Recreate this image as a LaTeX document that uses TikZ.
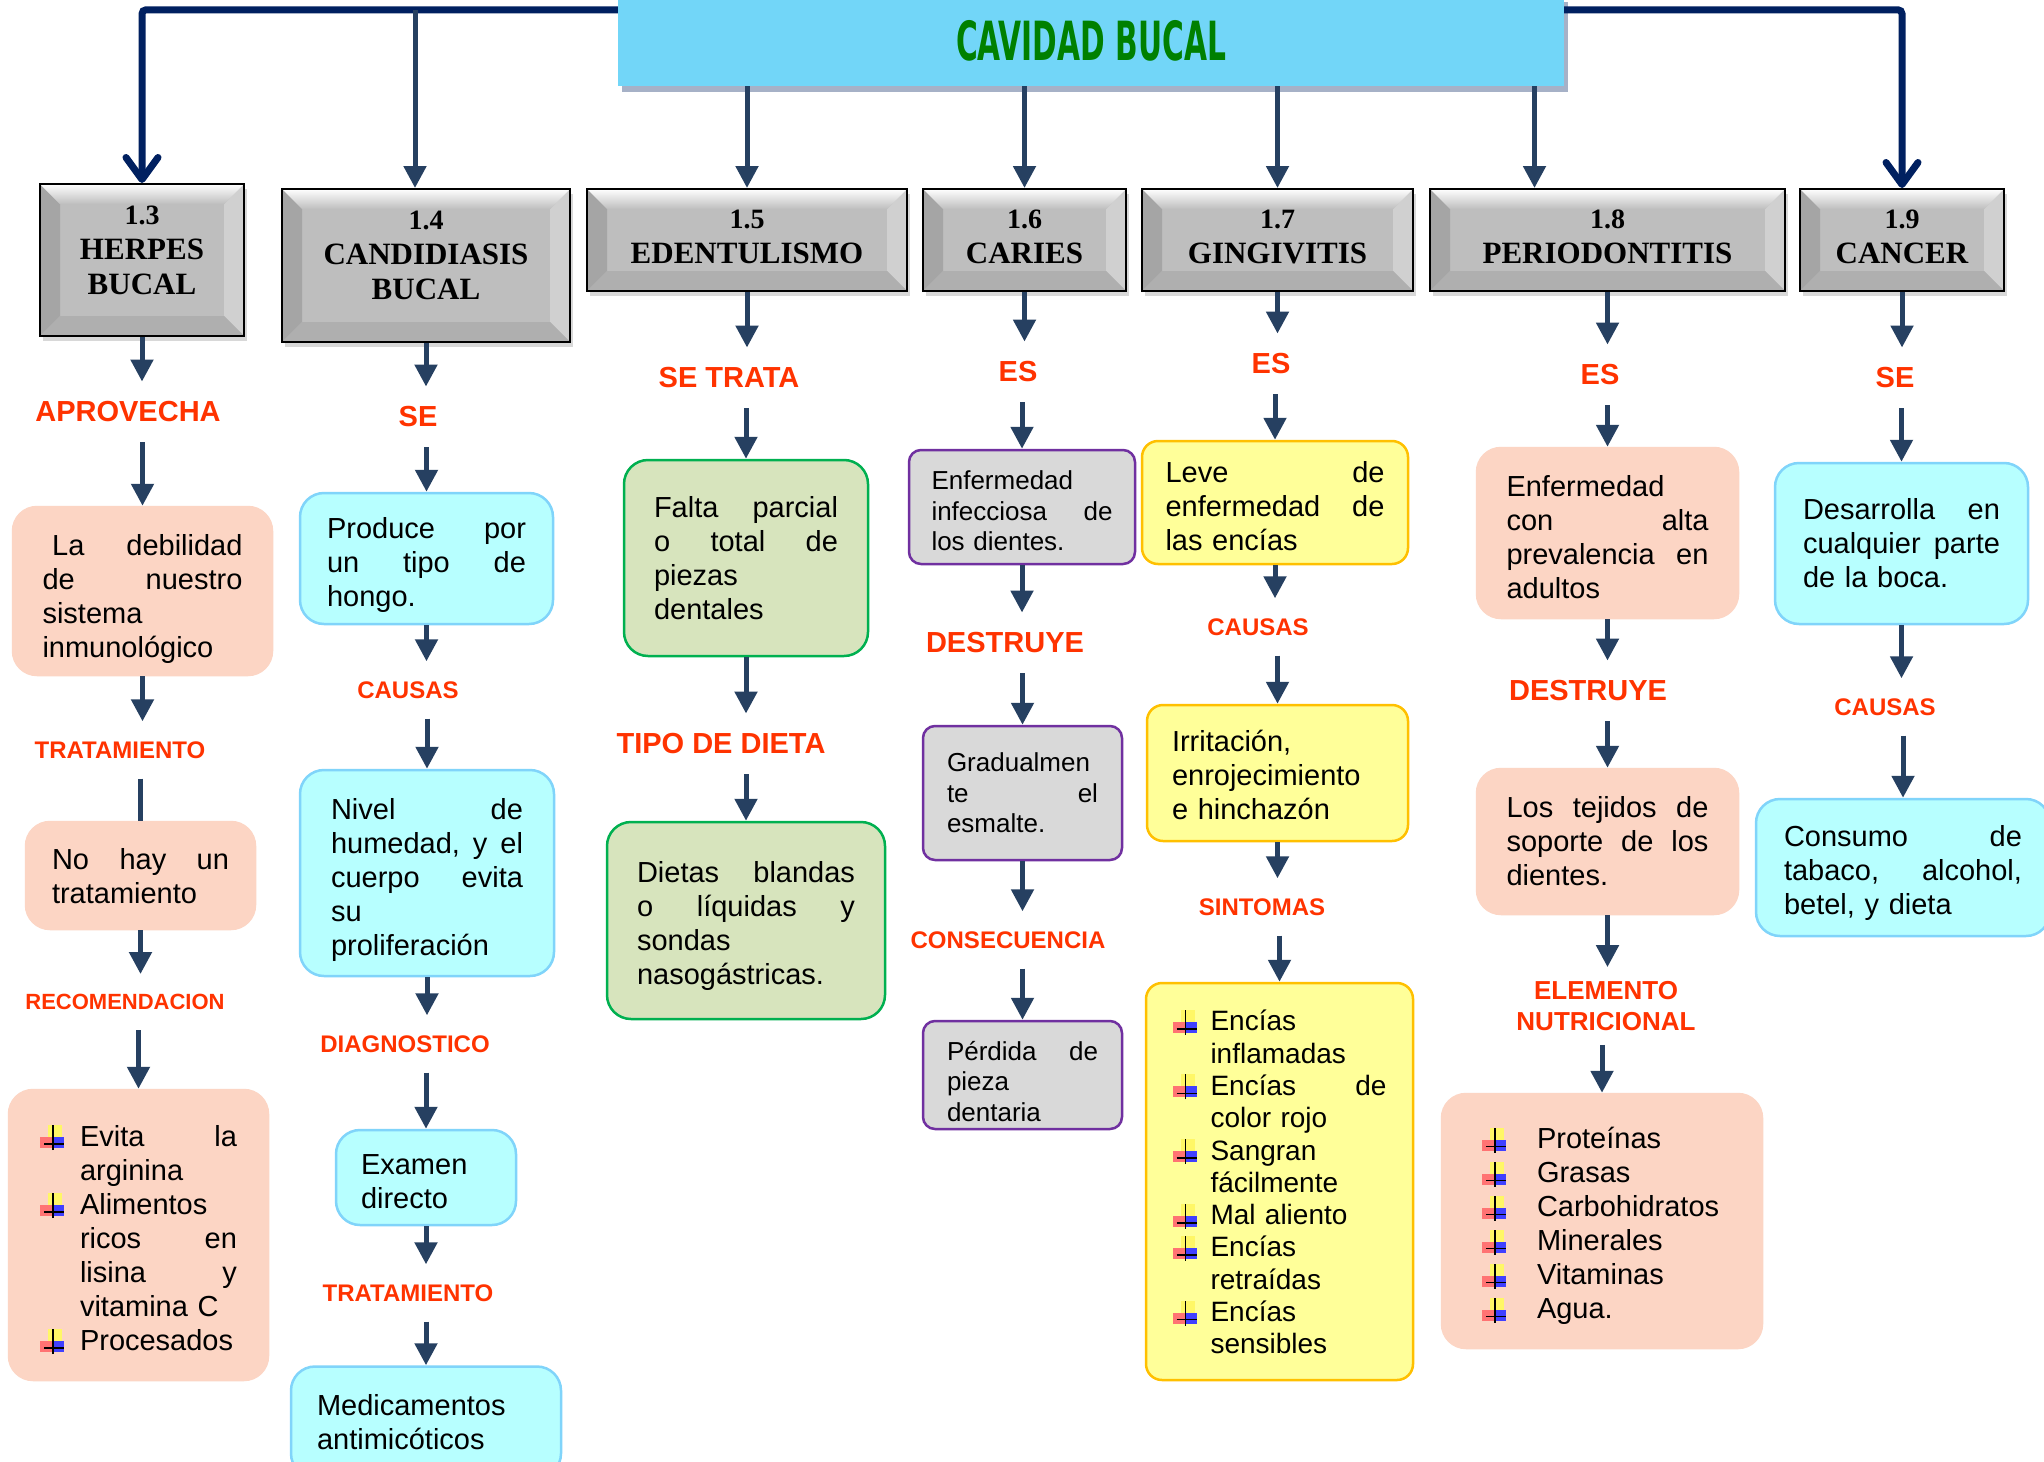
\documentclass[tikz,border=0pt]{standalone}
\usepackage{fontspec}
\setmainfont{Liberation Sans}
\newfontfamily\hdrfont{Liberation Serif}
\newfontfamily\ttlfont{DejaVu Sans}[FakeStretch=0.55]
\usetikzlibrary{
    arrows.meta,
    shadows,
    positioning
}
\definecolor{navyblue}{RGB}{0,32,96}
\definecolor{arrcol}{RGB}{38,64,97}
\definecolor{lblred}{RGB}{255,51,0}
\definecolor{peach}{RGB}{252,213,196}
\definecolor{cyanfill}{RGB}{183,255,255}
\definecolor{cyanline}{RGB}{128,212,250}
\definecolor{grnfill}{RGB}{215,228,189}
\definecolor{grnline}{RGB}{0,176,80}
\definecolor{grayfill}{RGB}{217,217,217}
\definecolor{purpline}{RGB}{112,48,160}
\definecolor{yelfill}{RGB}{255,255,153}
\definecolor{yelline}{RGB}{255,192,0}
\definecolor{ttlblue}{RGB}{114,214,248}
\definecolor{ttlgreen}{RGB}{0,128,0}
\definecolor{hdrgray}{RGB}{190,190,190}
\definecolor{bevL}{RGB}{165,165,165}
\definecolor{bevR}{RGB}{208,208,208}
\definecolor{bevB}{RGB}{175,175,175}
\newcommand{\numsz}{\fontsize{28}{35}\selectfont}
\newcommand{\bul}{\tikz[x=1pt,y=1pt,baseline=3pt,sharp corners]{%
    \fill[yellow!60!white] (8,12) rectangle (22,24);
    \fill[red!55!white] (0,1) rectangle (13,12);
    \fill[blue!75] (12,1) rectangle (24,12);
    \draw[black,line width=1.8pt] (13,-1) -- (13,24);
    \draw[black,line width=1.8pt] (4,5) -- (24,5);}}
\newcommand{\itm}[1]{\makebox[#1][l]{\bul}}
\begin{document}
\begin{tikzpicture}[x=1pt,y=-1pt,
    arr/.style={draw=arrcol, line width=5pt, -{Triangle[width=22pt,length=22pt]}},
    arrline/.style={draw=arrcol, line width=5pt},
    topline/.style={draw=navyblue, line width=7pt, rounded corners=4pt,
        -{Straight Barb[length=22pt,width=32pt,line cap=round,line join=round]}},
    ttl/.style={fill=ttlblue, minimum width=946pt, minimum height=90pt, text=ttlgreen,
        font=\ttlfont\fontsize{54}{60}\selectfont\bfseries,
        drop shadow={opacity=0.35, fill=navyblue, shadow xshift=4pt, shadow yshift=-6pt}},
    hdr/.style={draw=black, line width=2pt, fill=hdrgray, align=center,
        font=\hdrfont\fontsize{31}{35}\selectfont\bfseries,
        drop shadow={opacity=0.3, shadow xshift=3pt, shadow yshift=-5pt},
        path picture={
            \path (path picture bounding box.north west) coordinate (pnw)
                  (path picture bounding box.north east) coordinate (pne)
                  (path picture bounding box.south west) coordinate (psw)
                  (path picture bounding box.south east) coordinate (pse);
            \fill[bevL] (pnw) -- ([xshift=20pt,yshift=-20pt]pnw) -- ([xshift=20pt,yshift=20pt]psw) -- (psw) -- cycle;
            \fill[bevR] (pne) -- ([xshift=-20pt,yshift=-20pt]pne) -- ([xshift=-20pt,yshift=20pt]pse) -- (pse) -- cycle;
            \fill[bevB] (psw) -- ([xshift=20pt,yshift=20pt]psw) -- ([xshift=-20pt,yshift=20pt]pse) -- (pse) -- cycle;
            \shade[top color=white, bottom color=hdrgray] (pnw) -- (pne) -- ([xshift=-20pt,yshift=-20pt]pne) -- ([xshift=20pt,yshift=-20pt]pnw) -- cycle;
        }},
    hpad/.style={execute at end node={\rule[-#1]{0pt}{#1}}},
    tpad/.style={execute at begin node={\rule{0pt}{#1}}},
    lbl/.style={text=lblred, inner xsep=2pt, inner ysep=20pt, font=\fontsize{29}{34}\selectfont\bfseries},
    mlbl/.style={lbl, font=\fontsize{24}{28}\selectfont\bfseries},
    slbl/.style={lbl, font=\fontsize{22}{26}\selectfont\bfseries},
    box/.style={rounded corners=24pt, line width=2.5pt, align=left, inner ysep=0pt,
        font=\fontsize{29}{34}\selectfont},
    pbox/.style={box, fill=peach, draw=peach},
    cbox/.style={box, fill=cyanfill, draw=cyanline},
    gbox/.style={box, fill=grnfill, draw=grnline},
    dbox/.style={box, fill=grayfill, draw=purpline, rounded corners=12pt,
        font=\fontsize{26}{30.5}\selectfont},
    ybox/.style={box, fill=yelfill, draw=yelline, rounded corners=16pt}
]
\useasboundingbox (0,0) rectangle (2044,1461);
\fill[white] (0,0) rectangle (2044,1461);

% title and the seven topics
\node[ttl] (title) at (1091,41) {CAVIDAD BUCAL};
\node[hdr, hpad=20pt, minimum width=204pt, minimum height=152pt] (h13) at (142,260) {{\numsz 1.3}\\HERPES\\BUCAL};
\node[hdr, hpad=20pt, minimum width=288pt, minimum height=153pt] (h14) at (426,265.5) {{\numsz 1.4}\\CANDIDIASIS\\BUCAL};
\node[hdr, hpad=7pt, minimum width=320pt, minimum height=102pt] (h15) at (747,240) {{\numsz 1.5}\\EDENTULISMO};
\node[hdr, hpad=7pt, minimum width=203pt, minimum height=102pt] (h16) at (1024.5,240) {{\numsz 1.6}\\CARIES};
\node[hdr, hpad=7pt, minimum width=271pt, minimum height=102pt] (h17) at (1277.5,240) {{\numsz 1.7}\\GINGIVITIS};
\node[hdr, hpad=7pt, minimum width=355pt, minimum height=102pt] (h18) at (1607.5,240) {{\numsz 1.8}\\PERIODONTITIS};
\node[hdr, hpad=7pt, minimum width=204pt, minimum height=102pt] (h19) at (1902,240) {{\numsz 1.9}\\CANCER};

\draw[topline] ([yshift=-14pt]title.north west) -| (h13.north);
\draw[topline] ([yshift=-14pt]title.north east) -| (h19.north);
\coordinate (j14) at (415,10);
\draw[arr] (j14) -- (j14 |- h14.north);
\foreach \h in {h15,h16,h17}
    \draw[arr] (title.south -| \h.north) -- (\h.north);
\draw[arr] ([xshift=-73pt]h18.north |- title.south) -- ([xshift=-73pt]h18.north);

% 1.3 herpes
\node[lbl] (apr) at (128,412) {APROVECHA};
\node[pbox, tpad=37pt, text width=200pt, inner xsep=29.5pt, minimum height=168pt] (b31) at (142.5,591) {\ La\hfill debilidad\\de\hfill nuestro\\sistema\\inmunológico};
\node[mlbl] (t31) at (120,750) {TRATAMIENTO};
\node[pbox, tpad=23pt, text width=177pt, inner xsep=26pt, minimum height=107pt] (b32) at (140.5,875.5) {No\hfill hay\hfill un\\tratamiento};
\node[slbl] (r31) at (125,1002) {RECOMENDACION};
\node[pbox, tpad=31pt, text width=197pt, inner xsep=31pt, minimum height=290pt] (b33) at (138.5,1235) {\itm{40pt}Evita\hfill la\\\hspace*{40pt}arginina\\\itm{40pt}Alimentos\\\hspace*{40pt}ricos\hfill en\\\hspace*{40pt}lisina\hfill y\\\hspace*{40pt}vitamina C\\\itm{40pt}Procesados};

% 1.4 candidiasis
\node[lbl] (se2) at (418,417) {SE};
\node[cbox, tpad=34pt, text width=199pt, inner xsep=27pt, minimum height=131pt] (b41) at (426.5,558.5) {Produce\hfill por\\un\hfill tipo\hfill de\\hongo.};
\node[mlbl] (ca2) at (408,690) {CAUSAS};
\node[cbox, tpad=34pt, text width=192pt, inner xsep=31pt, minimum height=206pt] (b42) at (427,873) {Nivel\hfill de\\humedad,\hfill y\hfill el\\cuerpo\hfill evita\\su\\proliferación};
\node[mlbl] (di2) at (405,1044) {DIAGNOSTICO};
\node[cbox, tpad=29pt, text width=130pt, inner xsep=25pt, minimum height=95pt] (b43) at (426,1177.5) {Examen\\directo};
\node[mlbl] (tr2) at (408,1293) {TRATAMIENTO};
\node[cbox, text width=218pt, inner xsep=26pt, minimum height=111pt] (b44) at (426,1422) {Medicamentos\\antimicóticos};

% 1.5 edentulismo
\node[lbl] (st3) at (729,378) {SE TRATA};
\node[gbox, text width=184pt, inner xsep=30pt, minimum height=196pt] (b51) at (746,558) {Falta\hfill parcial\\o\hfill total\hfill de\\piezas\\dentales};
\node[lbl] (td3) at (721,744) {TIPO DE DIETA};
\node[gbox, tpad=31pt, text width=218pt, inner xsep=30pt, minimum height=197pt] (b52) at (746,920.5) {Dietas\hfill blandas\\o\hfill líquidas\hfill y\\sondas\\nasogástricas.};

% 1.6 caries
\node[lbl] (es4) at (1018,372) {ES};
\node[dbox, tpad=27pt, text width=181pt, inner xsep=22.5pt, minimum height=114pt] (b61) at (1022,507) {Enfermedad\\infecciosa\hfill de\\los dientes.};
\node[lbl] (de4) at (1005,643) {DESTRUYE};
\node[dbox, text width=151pt, inner xsep=24pt, minimum height=134pt] (b62) at (1022.5,793) {Gradualmen\\te\hfill el\\esmalte.};
\node[mlbl] (co4) at (1008,940) {CONSECUENCIA};
\node[dbox, tpad=32pt, text width=151pt, inner xsep=24pt, minimum height=108pt] (b63) at (1022.5,1075) {Pérdida\hfill de\\pieza\\dentaria};

% 1.7 gingivitis
\node[lbl] (es5) at (1271,364) {ES};
\node[ybox, tpad=29pt, text width=219pt, inner xsep=23.5pt, minimum height=123pt] (b71) at (1275,502.5) {Leve\hfill de\\enfermedad\hfill de\\las encías};
\node[mlbl] (ca5) at (1258,627) {CAUSAS};
\node[ybox, tpad=26pt, text width=211pt, inner xsep=25pt, minimum height=136pt] (b72) at (1277.5,773) {Irritación,\\enrojecimiento\\e hinchazón};
\node[mlbl] (si5) at (1262,907) {SINTOMAS};
\node[ybox, text width=214pt, inner xsep=26.5pt, minimum height=397pt, font=\fontsize{28}{32.3}\selectfont] (b73) at (1279.5,1181.5) {\itm{38pt}Encías\\\hspace*{38pt}inflamadas\\\itm{38pt}Encías\hfill de\\\hspace*{38pt}color rojo\\\itm{38pt}Sangran\\\hspace*{38pt}fácilmente\\\itm{38pt}Mal aliento\\\itm{38pt}Encías\\\hspace*{38pt}retraídas\\\itm{38pt}Encías\\\hspace*{38pt}sensibles};

% 1.8 periodontitis
\node[lbl] (es6) at (1600,375) {ES};
\node[pbox, tpad=29pt, text width=202pt, inner xsep=29.5pt, minimum height=170pt] (b81) at (1607.5,533) {Enfermedad\\con\hfill alta\\prevalencia\hfill en\\adultos};
\node[lbl] (de6) at (1588,691) {DESTRUYE};
\node[pbox, text width=202pt, inner xsep=29.5pt, minimum height=145pt] (b82) at (1607.5,841.5) {Los\hfill tejidos\hfill de\\soporte\hfill de\hfill los\\dientes.};
\node[lbl, align=center, inner ysep=14pt, font=\fontsize{26}{31}\selectfont\bfseries] (el6) at (1606,1006) {ELEMENTO\\NUTRICIONAL};
\node[pbox, tpad=31pt, text width=240pt, inner xsep=40pt, minimum height=254pt] (b83) at (1602,1221) {\itm{55pt}Proteínas\\\itm{55pt}Grasas\\\itm{55pt}Carbohidratos\\\itm{55pt}Minerales\\\itm{55pt}Vitaminas\\\itm{55pt}Agua.};

% 1.9 cancer
\node[lbl] (se7) at (1895,378) {SE};
\node[cbox, text width=197pt, inner xsep=28pt, minimum height=161pt] (b91) at (1901.5,543.5) {Desarrolla\hfill en\\cualquier\hfill parte\\de la boca.};
\node[mlbl] (ca7) at (1885,707) {CAUSAS};
\node[cbox, tpad=31pt, text width=238pt, inner xsep=28pt, minimum height=137pt] (b92) at (1903,867.5) {Consumo\hfill de\\tabaco,\hfill alcohol,\\betel, y dieta};

% arrows down the columns
\foreach \a/\b in {h13/apr,b31/t31,b32/r31,h14/se2,b41/ca2,b42/di2,b43/tr2,h15/st3,b51/td3,h16/es4,b61/de4,b62/co4,h17/es5,b71/ca5,b72/si5,h18/es6,b81/de6,b82/el6,h19/se7,b91/ca7}
    \draw[arr] (\a.south) -- (\a.south |- \b.north);
\foreach \a/\b in {apr/b31,r31/b33,se2/b41,ca2/b42,di2/b43,tr2/b44,st3/b51,td3/b52,es4/b61,de4/b62,co4/b63,es5/b71,ca5/b72,si5/b73,es6/b81,de6/b82,el6/b83,se7/b91,ca7/b92}
    \draw[arr] (\a.south -| \b.north) -- (\b.north);
\draw[arrline] (t31.south -| b32.north) -- (b32.north);
\end{tikzpicture}
\end{document}
